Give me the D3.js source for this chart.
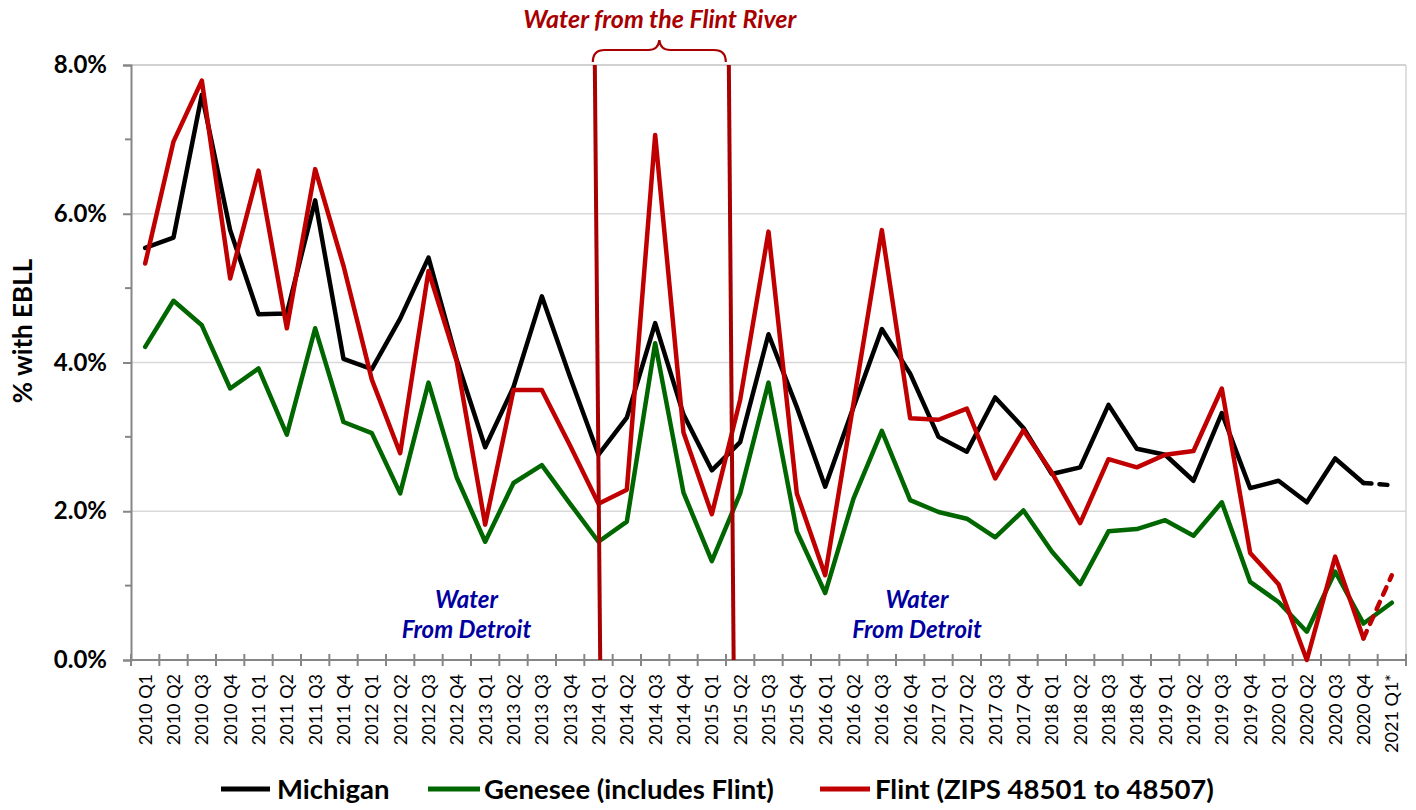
<!DOCTYPE html>
<html>
<head>
<meta charset="utf-8">
<script src="https://cdn.jsdelivr.net/npm/d3@7"></script>
<style>
  html, body { margin: 0; padding: 0; background: #ffffff; }
  svg { display: block; }
  text { font-family: Lato, "Open Sans", "Liberation Sans", sans-serif; }
</style>
</head>
<body>
<svg id="chart" width="1416" height="810"></svg>
<script>
// ---------- data ----------
const categories = [
  "2010 Q1","2010 Q2","2010 Q3","2010 Q4",
  "2011 Q1","2011 Q2","2011 Q3","2011 Q4",
  "2012 Q1","2012 Q2","2012 Q3","2012 Q4",
  "2013 Q1","2013 Q2","2013 Q3","2013 Q4",
  "2014 Q1","2014 Q2","2014 Q3","2014 Q4",
  "2015 Q1","2015 Q2","2015 Q3","2015 Q4",
  "2016 Q1","2016 Q2","2016 Q3","2016 Q4",
  "2017 Q1","2017 Q2","2017 Q3","2017 Q4",
  "2018 Q1","2018 Q2","2018 Q3","2018 Q4",
  "2019 Q1","2019 Q2","2019 Q3","2019 Q4",
  "2020 Q1","2020 Q2","2020 Q3","2020 Q4",
  "2021 Q1*"
];

const michigan = [5.54, 5.68, 7.60, 5.78, 4.65, 4.66, 6.18, 4.05, 3.91, 4.59, 5.41, 4.03,
  2.86, 3.67, 4.89, 3.80, 2.76, 3.26, 4.53, 3.30, 2.55, 2.93, 4.38, 3.40, 2.33, 3.40,
  4.45, 3.85, 3.00, 2.80, 3.53, 3.12, 2.50, 2.59, 3.43, 2.84, 2.76, 2.41, 3.32, 2.31,
  2.41, 2.12, 2.71, 2.38, 2.35];

const genesee = [4.21, 4.83, 4.50, 3.65, 3.92, 3.03, 4.46, 3.20, 3.05, 2.24, 3.73, 2.45,
  1.59, 2.38, 2.62, 2.10, 1.59, 1.86, 4.26, 2.25, 1.33, 2.24, 3.73, 1.73, 0.90, 2.17,
  3.08, 2.15, 1.99, 1.90, 1.65, 2.01, 1.46, 1.02, 1.73, 1.76, 1.88, 1.67, 2.12, 1.05,
  0.78, 0.38, 1.19, 0.49, 0.77];

const flint = [5.33, 6.97, 7.79, 5.13, 6.58, 4.46, 6.60, 5.30, 3.77, 2.78, 5.23, 4.01,
  1.82, 3.63, 3.63, 2.88, 2.10, 2.29, 7.06, 3.06, 1.96, 3.50, 5.76, 2.24, 1.14, 3.45,
  5.78, 3.25, 3.23, 3.38, 2.44, 3.09, 2.52, 1.84, 2.70, 2.59, 2.76, 2.81, 3.65, 1.44,
  1.02, 0.00, 1.39, 0.29, 1.14];

const seriesNames = ["Michigan", "Genesee (includes Flint)", "Flint (ZIPS 48501 to 48507)"];
const seriesColors = ["#000000", "#006600", "#c00000"];
const lastSegmentDashed = [true, false, true];

const yMajorTicks = [0, 2, 4, 6, 8];
const yMinorTicks = [1, 3, 5, 7];

// Flint River period markers (fractional category positions: top, bottom)
const riverMarkers = [[15.87, 16.06], [20.60, 20.77]];
const riverLabel = "Water from the Flint River";
const detroitLabels = [["Water", "From Detroit"], ["Water", "From Detroit"]];
const detroitCenters = [11.34, 27.24]; // fractional category positions

// ---------- layout ----------
const svg = d3.select("#chart");
const pLeft = 131, pRight = 1406, pTop = 65, pBottom = 660;

const xBand = d3.scaleBand().domain(categories).range([pLeft, pRight]).paddingInner(0).paddingOuter(0);
const bw = xBand.bandwidth();
const xPos = i => xBand(categories[i]) + bw / 2;
const xFrac = f => pLeft + bw * (f + 0.5);
const y = d3.scaleLinear().domain([0, 8]).range([pBottom, pTop]);

const axisGray = "#868686";

// gridlines
svg.append("g").selectAll("line").data(yMajorTicks.filter(d => d > 0)).join("line")
  .attr("x1", pLeft).attr("x2", pRight)
  .attr("y1", d => y(d)).attr("y2", d => y(d))
  .attr("stroke", d => d === 8 ? "#c3c3c3" : "#d9d9d9").attr("stroke-width", 1.5);
// right border
svg.append("line").attr("x1", pRight).attr("x2", pRight).attr("y1", pTop).attr("y2", pBottom)
  .attr("stroke", "#d4d4d4").attr("stroke-width", 1.5);

// y axis
const yAxis = d3.axisLeft(y).tickValues(yMajorTicks).tickSize(8)
  .tickFormat(d => d3.format(".1f")(d) + "%");
const gy = svg.append("g").attr("transform", `translate(${pLeft},0)`).call(yAxis);
gy.select(".domain").attr("stroke", axisGray).attr("stroke-width", 2);
gy.selectAll(".tick line").attr("stroke", axisGray).attr("stroke-width", 2);
gy.selectAll(".tick text").attr("x", -24).attr("fill", "#000")
  .style("font-size", "24px").style("font-weight", "bold");
gy.append("g").selectAll("line").data(yMinorTicks).join("line")
  .attr("x1", -6).attr("x2", 0).attr("y1", d => y(d)).attr("y2", d => y(d))
  .attr("stroke", axisGray).attr("stroke-width", 2);

// x axis
svg.append("line").attr("x1", pLeft).attr("x2", pRight).attr("y1", pBottom).attr("y2", pBottom)
  .attr("stroke", axisGray).attr("stroke-width", 2);
const boundaries = d3.range(categories.length + 1).map(i => pLeft + i * bw);
svg.append("g").selectAll("line").data(boundaries).join("line")
  .attr("x1", d => d).attr("x2", d => d).attr("y1", pBottom - 6).attr("y2", pBottom + 6)
  .attr("stroke", axisGray).attr("stroke-width", 2);
svg.append("g").selectAll("text").data(categories).join("text")
  .attr("transform", (d, i) => `translate(${xPos(i)},${pBottom + 14}) rotate(-90)`)
  .attr("text-anchor", "end").attr("dy", "0.36em")
  .style("font-size", "18px").attr("fill", "#000").text(d => d);

// y axis title
svg.append("text").attr("transform", `translate(23,331) rotate(-90)`)
  .attr("text-anchor", "middle").attr("dy", "0.36em")
  .style("font-size", "26px").style("font-weight", "bold").text("% with EBLL");

// series
const seriesData = [michigan, genesee, flint];
const line = d3.line().x(d => xPos(d.i)).y(d => y(d.v));
const n = categories.length;
seriesData.forEach((vals, s) => {
  const pts = vals.map((v, i) => ({ i, v }));
  const main = lastSegmentDashed[s] ? pts.slice(0, n - 1) : pts;
  svg.append("path").datum(main).attr("d", line)
    .attr("fill", "none").attr("stroke", seriesColors[s]).attr("stroke-width", 4.5)
    .attr("stroke-linejoin", "round").attr("stroke-linecap", "round");
  if (lastSegmentDashed[s]) {
    svg.append("path").datum(pts.slice(n - 2)).attr("d", line)
      .attr("fill", "none").attr("stroke", seriesColors[s]).attr("stroke-width", 4.5)
      .attr("stroke-dasharray", "8,8").attr("stroke-linecap", "round");
  }
});

// Flint River period lines
const riverColor = "#a80000";
svg.append("g").selectAll("line").data(riverMarkers).join("line")
  .attr("x1", d => xFrac(d[0])).attr("x2", d => xFrac(d[1]))
  .attr("y1", y(8)).attr("y2", y(0))
  .attr("stroke", riverColor).attr("stroke-width", 4);

// brace
const bx0 = xFrac(riverMarkers[0][0]) - 2, bx1 = xFrac(riverMarkers[1][0]) - 3;
const bm = (bx0 + bx1) / 2;
svg.append("path")
  .attr("d", `M${bx0},62 Q${bx0},50 ${bx0 + 12},50 L${bm - 11},50 Q${bm - 1},50 ${bm},40 Q${bm + 1},50 ${bm + 11},50 L${bx1 - 12},50 Q${bx1},50 ${bx1},62`)
  .attr("fill", "none").attr("stroke", riverColor).attr("stroke-width", 2.2);
svg.append("text").attr("x", bm + 0.5).attr("y", 28).attr("text-anchor", "middle")
  .style("font-size", "25px").style("font-weight", "bold").style("font-style", "italic")
  .attr("fill", riverColor).text(riverLabel);

// Water From Detroit
detroitLabels.forEach((lines, k) => {
  const t = svg.append("text").attr("text-anchor", "middle")
    .style("font-size", "24px").style("font-weight", "bold").style("font-style", "italic")
    .attr("fill", "#0000a0");
  lines.forEach((l, j) => {
    t.append("tspan").attr("x", xFrac(detroitCenters[k])).attr("y", 608 + j * 30).text(l);
  });
});

// legend
const legendItems = [
  { x0: 221, x1: 270, tx: 277 },
  { x0: 428, x1: 480, tx: 484 },
  { x0: 820, x1: 870, tx: 875 }
];
const lg = svg.append("g");
legendItems.forEach((it, s) => {
  lg.append("line").attr("x1", it.x0).attr("x2", it.x1).attr("y1", 789).attr("y2", 789)
    .attr("stroke", seriesColors[s]).attr("stroke-width", 5);
  lg.append("text").attr("x", it.tx).attr("y", 789).attr("dy", "0.36em")
    .style("font-size", "27.5px").style("font-weight", "bold").text(seriesNames[s]);
});
</script>
</body>
</html>
